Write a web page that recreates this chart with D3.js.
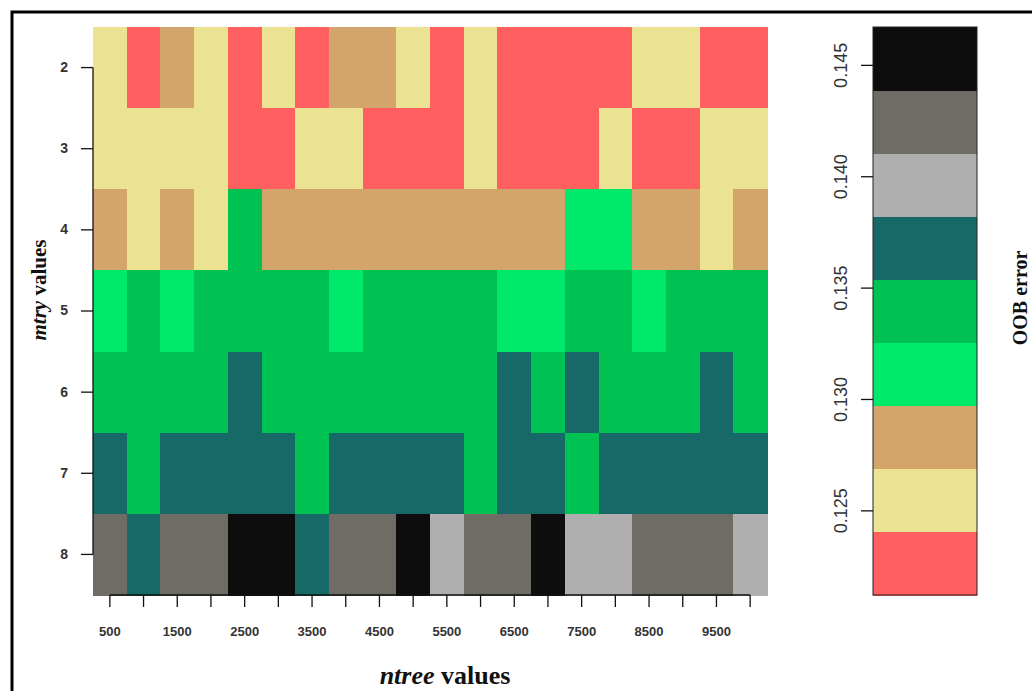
<!DOCTYPE html>
<html>
<head>
<meta charset="utf-8">
<script src="https://cdn.jsdelivr.net/npm/d3@7"></script>
<style>
    body { margin: 0; background: #fff; }
    .tickText { font-family: Arial, "Liberation Sans", sans-serif; fill: #333; }
    .axisTitle { font-family: "Liberation Serif", "Times New Roman", serif; font-weight: bold; fill: #111; }
</style>
</head>
<body>
<div class="vis"></div>
<script>
// ntree values on the x axis, mtry values on the y axis
const ntreeValues = [500, 1000, 1500, 2000, 2500, 3000, 3500, 4000, 4500, 5000,
    5500, 6000, 6500, 7000, 7500, 8000, 8500, 9000, 9500, 10000];
const ntreeLabels = [500, 1500, 2500, 3500, 4500, 5500, 6500, 7500, 8500, 9500];
const mtryValues = [2, 3, 4, 5, 6, 7, 8];

// OOB error for each mtry row, one value per ntree column
const oobMtry2 = [0.1255, 0.1226, 0.1283, 0.1255, 0.1226, 0.1255, 0.1226, 0.1283, 0.1283, 0.1255,
    0.1226, 0.1255, 0.1226, 0.1226, 0.1226, 0.1226, 0.1255, 0.1255, 0.1226, 0.1226];
const oobMtry3 = [0.1255, 0.1255, 0.1255, 0.1255, 0.1226, 0.1226, 0.1255, 0.1255, 0.1226, 0.1226,
    0.1226, 0.1255, 0.1226, 0.1226, 0.1226, 0.1255, 0.1226, 0.1226, 0.1255, 0.1255];
const oobMtry4 = [0.1283, 0.1255, 0.1283, 0.1255, 0.1340, 0.1283, 0.1283, 0.1283, 0.1283, 0.1283,
    0.1283, 0.1283, 0.1283, 0.1283, 0.1311, 0.1311, 0.1283, 0.1283, 0.1255, 0.1283];
const oobMtry5 = [0.1311, 0.1340, 0.1311, 0.1340, 0.1340, 0.1340, 0.1340, 0.1311, 0.1340, 0.1340,
    0.1340, 0.1340, 0.1311, 0.1311, 0.1340, 0.1340, 0.1311, 0.1340, 0.1340, 0.1340];
const oobMtry6 = [0.1340, 0.1340, 0.1340, 0.1340, 0.1368, 0.1340, 0.1340, 0.1340, 0.1340, 0.1340,
    0.1340, 0.1340, 0.1368, 0.1340, 0.1368, 0.1340, 0.1340, 0.1340, 0.1368, 0.1340];
const oobMtry7 = [0.1368, 0.1340, 0.1368, 0.1368, 0.1368, 0.1368, 0.1340, 0.1368, 0.1368, 0.1368,
    0.1368, 0.1340, 0.1368, 0.1368, 0.1340, 0.1368, 0.1368, 0.1368, 0.1368, 0.1368];
const oobMtry8 = [0.1425, 0.1368, 0.1425, 0.1425, 0.1453, 0.1453, 0.1368, 0.1425, 0.1425, 0.1453,
    0.1396, 0.1425, 0.1425, 0.1453, 0.1396, 0.1396, 0.1425, 0.1425, 0.1425, 0.1396];

const oobTicks = [0.125, 0.130, 0.135, 0.140, 0.145];
const oobDomain = [0.1212, 0.1467];

// low error -> high error
const colours = ["#ff5f5f", "#ebe391", "#d3a56a", "#00e96a", "#00c252",
    "#166966", "#afafaf", "#6f6c66", "#0d0d0d"];

(function () {
    const svgWidth = 1032;
    const svgHeight = 691;

    const svg = d3.select('.vis')
        .append("svg")
            .attr('width', svgWidth)
            .attr('height', svgHeight);

    // frame around the whole figure (runs off the right and bottom)
    svg.append('rect')
        .attr('x', 12)
        .attr('y', 12)
        .attr('width', 1100)
        .attr('height', 800)
        .attr('fill', 'none')
        .attr('stroke', '#000')
        .attr('stroke-width', 3);

    var plot = { left: 93, right: 767, top: 27, bottom: 595 };

    var rows = [oobMtry2, oobMtry3, oobMtry4, oobMtry5, oobMtry6, oobMtry7, oobMtry8];
    var cells = [];
    rows.forEach(function (row, i) {
        row.forEach(function (v, j) {
            cells.push({ mtry: mtryValues[i], ntree: ntreeValues[j], oob: v });
        });
    });

    var xScale = d3.scaleBand()
        .domain(ntreeValues)
        .range([plot.left, plot.right]);

    var yScale = d3.scaleBand()
        .domain(mtryValues)
        .range([plot.top, plot.bottom]);

    var color = d3.scaleQuantize()
        .domain(oobDomain)
        .range(colours);

    svg.append('g')
        .attr('shape-rendering', 'crispEdges')
        .selectAll('rect')
        .data(cells)
        .enter().append('rect')
            .attr('x', function (d) { return xScale(d.ntree); })
            .attr('y', function (d) { return yScale(d.mtry); })
            .attr('width', xScale.bandwidth() + 0.6)
            .attr('height', yScale.bandwidth() + 0.6)
            .attr('fill', function (d) { return color(d.oob); });

    // x axis: a tick on every column, a label on every other one
    var xAxis = d3.axisBottom(xScale)
        .tickSizeOuter(0)
        .tickSize(12)
        .tickPadding(20)
        .tickFormat(function (d) { return ntreeLabels.indexOf(d) >= 0 ? d : ''; });

    var callxAxis = svg.append('g')
        .attr('transform', `translate(0, ${plot.bottom})`)
        .call(xAxis);
    callxAxis.select('.domain').remove();
    callxAxis.selectAll('.tick line').attr('stroke', '#111').attr('stroke-width', 1.3);
    callxAxis.selectAll('.tick text')
        .attr('class', 'tickText')
        .style('font-size', '13px')
        .style('font-weight', 'bold');
    callxAxis.append('line')
        .attr('x1', xScale(ntreeValues[0]) + xScale.bandwidth() / 2)
        .attr('x2', xScale(ntreeValues[ntreeValues.length - 1]) + xScale.bandwidth() / 2)
        .attr('stroke', '#111')
        .attr('stroke-width', 1.3);

    var yAxis = d3.axisLeft(yScale)
        .tickSizeOuter(0)
        .tickSize(12)
        .tickPadding(13);

    var callyAxis = svg.append('g')
        .attr('transform', `translate(${plot.left}, 0)`)
        .call(yAxis);
    callyAxis.select('.domain').remove();
    callyAxis.selectAll('.tick line').attr('stroke', '#111').attr('stroke-width', 1.3);
    callyAxis.selectAll('.tick text')
        .attr('class', 'tickText')
        .style('font-size', '14px')
        .style('font-weight', 'bold');
    callyAxis.append('line')
        .attr('y1', yScale(mtryValues[0]) + yScale.bandwidth() / 2)
        .attr('y2', yScale(mtryValues[mtryValues.length - 1]) + yScale.bandwidth() / 2)
        .attr('stroke', '#111')
        .attr('stroke-width', 1.3);

    // axis titles
    var yTitle = svg.append('text')
        .attr('class', 'axisTitle')
        .attr('text-anchor', 'middle')
        .attr('transform', 'translate(46, 290) rotate(-90)')
        .style('font-size', '21px');
    yTitle.append('tspan').style('font-style', 'italic').text('mtry');
    yTitle.append('tspan').text(' values');

    var xTitle = svg.append('text')
        .attr('class', 'axisTitle')
        .attr('text-anchor', 'middle')
        .attr('x', 445)
        .attr('y', 684)
        .style('font-size', '26px');
    xTitle.append('tspan').style('font-style', 'italic').text('ntree');
    xTitle.append('tspan').text(' values');

    // colour key
    var key = { left: 873, right: 977 };
    var keyScale = d3.scaleLinear()
        .domain(oobDomain)
        .range([plot.bottom, plot.top]);

    svg.append('g')
        .attr('shape-rendering', 'crispEdges')
        .selectAll('rect')
        .data(colours)
        .enter().append('rect')
            .attr('x', key.left)
            .attr('width', key.right - key.left)
            .attr('y', function (c) { return keyScale(color.invertExtent(c)[1]); })
            .attr('height', function (c) {
                var e = color.invertExtent(c);
                return keyScale(e[0]) - keyScale(e[1]) + 0.6;
            })
            .attr('fill', function (c) { return c; });

    svg.append('rect')
        .attr('x', key.left)
        .attr('y', plot.top)
        .attr('width', key.right - key.left)
        .attr('height', plot.bottom - plot.top)
        .attr('fill', 'none')
        .attr('stroke', '#222')
        .attr('stroke-width', 1);

    var keyAxis = d3.axisLeft(keyScale)
        .tickValues(oobTicks)
        .tickSize(12)
        .tickFormat(d3.format('.3f'));

    var callKeyAxis = svg.append('g')
        .attr('transform', `translate(${key.left}, 0)`)
        .call(keyAxis);
    callKeyAxis.select('.domain').remove();
    callKeyAxis.selectAll('.tick line').attr('stroke', '#111').attr('stroke-width', 1.3);
    callKeyAxis.selectAll('.tick text')
        .attr('class', 'tickText')
        .attr('x', 0)
        .attr('y', -26)
        .attr('dy', 0)
        .attr('text-anchor', 'middle')
        .attr('transform', 'rotate(-90)')
        .style('font-size', '18px');

    svg.append('text')
        .attr('class', 'axisTitle')
        .attr('text-anchor', 'middle')
        .attr('transform', 'translate(1027, 298) rotate(-90)')
        .style('font-size', '20px')
        .text('OOB error');

} ());
</script>
</body>
</html>
